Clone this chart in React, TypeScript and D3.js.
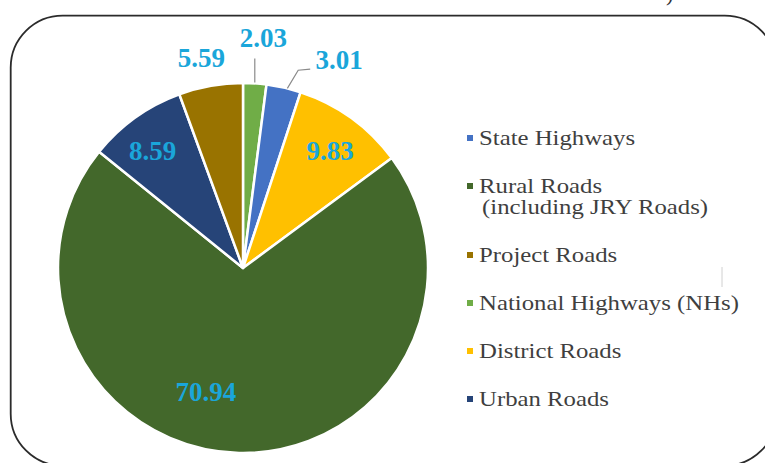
import React from "react";
import * as d3 from "d3";

// ---- data ----
const categories = [
  "National Highways (NHs)",
  "State Highways",
  "District Roads",
  "Rural Roads (including JRY Roads)",
  "Urban Roads",
  "Project Roads",
];
const values = [2.03, 3.01, 9.83, 70.94, 8.59, 5.59];
const valueLabels = ["2.03", "3.01", "9.83", "70.94", "8.59", "5.59"];
const colors = ["#70ad47", "#4472c4", "#ffc000", "#43682b", "#264478", "#997300"];
// legend order (indices into categories) and legend line breaks
const legendOrder = [1, 3, 5, 0, 2, 4];
const legendLines: string[][] = [
  ["National Highways (NHs)"],
  ["State Highways"],
  ["District Roads"],
  ["Rural Roads", "(including JRY Roads)"],
  ["Urban Roads"],
  ["Project Roads"],
];

// ---- layout / style ----
const W = 765;
const H = 463;
const cx = 243;
const cy = 268;
const R = 185;
// label placement: radius factor and angle offset (radians) relative to slice mid-angle
const labelPlace = [
  { k: 1.25, da: 0.024 },
  { k: 1.24, da: 0.21 },
  { k: 0.79, da: 0.014 },
  { k: 0.7, da: 0.27 },
  { k: 0.8, da: -0.035 },
  { k: 1.16, da: -0.02 },
];

export default function App() {
  const pie = d3
    .pie<number>()
    .sort(null)
    .value((d) => d)
    .startAngle(0)
    .endAngle(2 * Math.PI);
  const arcs = pie(values);
  const arc = d3.arc<d3.PieArcDatum<number>>().innerRadius(0).outerRadius(R);

  const polar = (a: number, r: number): [number, number] => [
    cx + r * Math.sin(a),
    cy - r * Math.cos(a),
  ];

  const labelColor = "#1aa6da";

  // legend vertical layout
  const legendX = 467;
  const textX = 479;
  const lineH = 21;
  let yCursor = 145;
  const legendItems: { idx: number; lines: { t: string; y: number }[] }[] = [];
  legendOrder.forEach((idx) => {
    const lines = legendLines[idx].map((t, j) => ({ t, y: yCursor + j * lineH }));
    legendItems.push({ idx, lines });
    yCursor += (legendLines[idx].length - 1) * lineH + 48;
  });

  return (
    <svg
      width={W}
      height={H}
      style={{ position: "absolute", left: 0, top: 0, background: "#fff" }}
    >
      <rect x={0} y={0} width={W} height={H} fill="#fff" />
      {/* cut-off fragment above the frame */}
      <text
        x={666}
        y={1}
        fontFamily="Liberation Serif"
        fontSize={22}
        fill="#333"
      >
        )
      </text>
      {/* rounded frame */}
      <rect
        x={10.7}
        y={15.7}
        width={766}
        height={450}
        rx={52}
        ry={52}
        fill="none"
        stroke="#2b2b2b"
        strokeWidth={1.8}
      />
      {/* pie */}
      <g>
        {arcs.map((a, i) => (
          <path
            key={i}
            d={arc(a) || ""}
            transform={`translate(${cx},${cy})`}
            fill={colors[i]}
            stroke="#fff"
            strokeWidth={2.5}
            strokeLinejoin="round"
          />
        ))}
      </g>
      {/* leader lines */}
      {(() => {
        const a0 = arcs[0];
        const m0 = (a0.startAngle + a0.endAngle) / 2;
        const [x0, y0] = polar(m0, R);
        const a1 = arcs[1];
        const m1 = (a1.startAngle + a1.endAngle) / 2;
        const [x1, y1] = polar(m1 + 0.02, R);
        const [x2, y2] = polar(m1 + 0.05, R * 1.11);
        return (
          <g stroke="#8a8a8a" strokeWidth={1.2} fill="none">
            <path d={`M${x0},${y0 - 1}V${y0 - 25}`} />
            <path d={`M${x1},${y1}L${x2},${y2}L${x2 + 12},${y2 - 1}`} />
          </g>
        );
      })()}
      {/* data labels */}
      {arcs.map((a, i) => {
        const m = (a.startAngle + a.endAngle) / 2 + labelPlace[i].da;
        const [x, y] = polar(m, R * labelPlace[i].k);
        return (
          <text
            key={i}
            x={x}
            y={y}
            dy="0.35em"
            textAnchor="middle"
            fontFamily="Liberation Serif"
            fontWeight="bold"
            fontSize={27}
            fill={labelColor}
          >
            {valueLabels[i]}
          </text>
        );
      })}
      {/* legend */}
      {legendItems.map(({ idx, lines }) => (
        <g key={idx}>
          <rect
            x={legendX}
            y={lines[0].y - 10}
            width={6}
            height={6}
            fill={colors[idx]}
          />
          {lines.map((l, j) => (
            <text
              key={j}
              transform={`translate(${textX + (j > 0 ? 3 : 0)},${l.y}) scale(1.18,1)`}
              fontFamily="Liberation Serif"
              fontSize={21}
              fill="#3f3f3f"
            >
              {l.t}
            </text>
          ))}
        </g>
      ))}
      {/* faint artifact line */}
      <line x1={722} y1={267} x2={722} y2={287} stroke="#d0d0d0" strokeWidth={1} />
    </svg>
  );
}
